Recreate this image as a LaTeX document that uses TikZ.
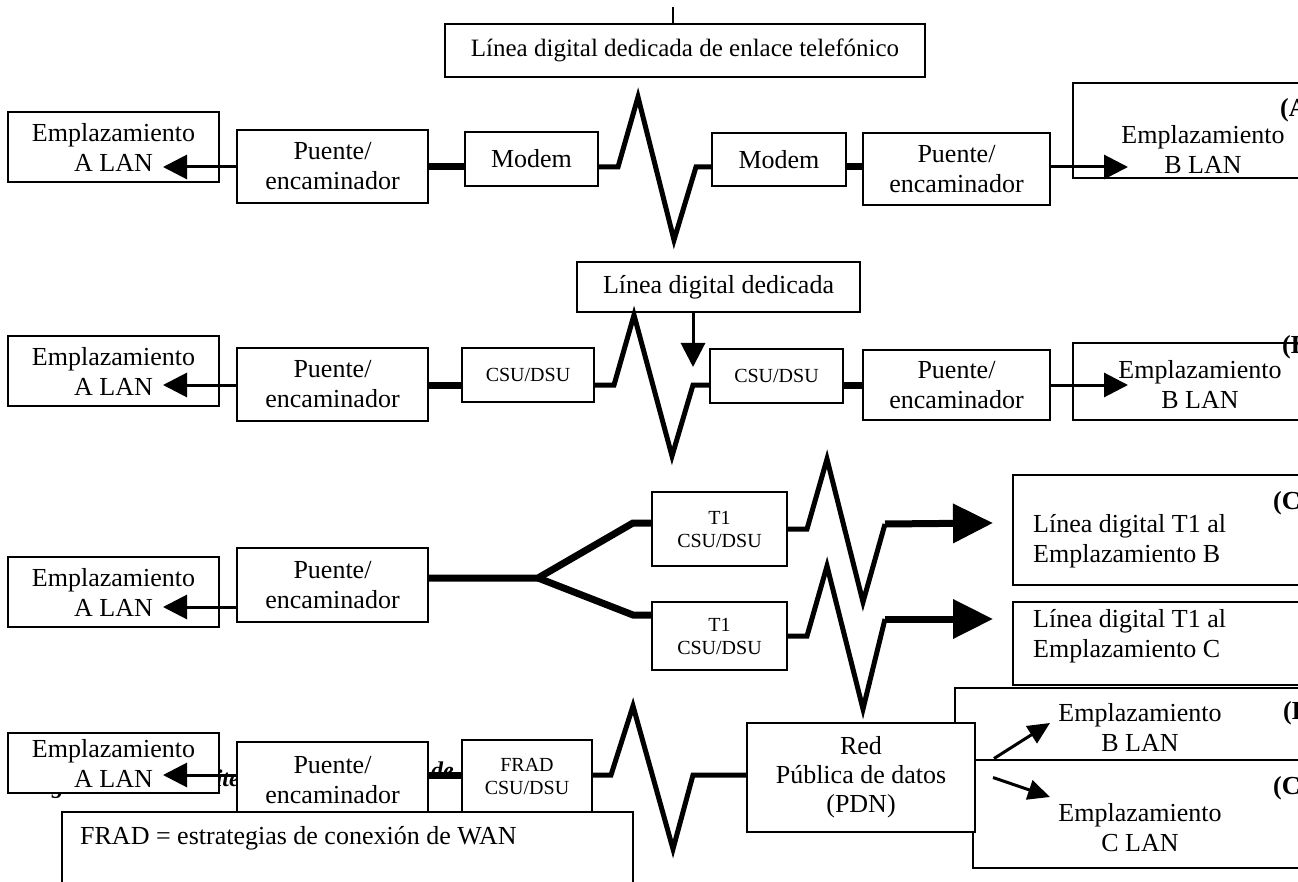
\documentclass[tikz,border=0pt]{standalone}
\usepackage{fontspec}
\setmainfont{Liberation Serif}
\usetikzlibrary{positioning,arrows.meta}

\tikzset{
  blk/.style={draw, fill=white, line width=2pt, inner sep=0pt, align=center,
    font=\fontsize{26}{30}\selectfont},
  csu/.style={blk, font=\fontsize{20}{23}\selectfont},
  txt/.style={inner sep=0pt, align=center, font=\fontsize{26}{30}\selectfont},
  tag/.style={inner sep=0pt, anchor=west, font=\fontsize{26}{30}\selectfont\bfseries},
  frag/.style={inner sep=0pt, font=\fontsize{24}{28}\selectfont\bfseries\itshape},
  zz/.style={line width=5pt},
  thk/.style={line width=7pt},
  thin/.style={line width=3pt},
  arr/.style={-{Triangle[length=24pt,width=24pt]}},
  bigarr/.style={-{Triangle[length=40pt,width=38pt]}},
  midarr/.style={-{Triangle[length=22pt,width=20pt]}},
}

\begin{document}
\begin{tikzpicture}[x=1pt, y=-1pt]
  \useasboundingbox (0,0) rectangle (1298,882);
  \clip (0,0) rectangle (1298,882);

  % leftovers of the caption, mostly hidden by the boxes
  \node[frag] (fg) at (58,790) {g};
  \node[frag, anchor=east] (fte) at (240,778) {ite};
  \node[frag, anchor=west] (fde) at (431,770) {de};

  % row A: modem
  \coordinate (ya) at (0,167);
  \coordinate (tk) at (673,7);
  \node[blk, minimum width=480pt, minimum height=53pt, font=\fontsize{25}{29}\selectfont] (lda) at (685,50.5) {Línea digital dedicada de enlace telefónico};
  \node[blk, minimum width=211pt, minimum height=70pt] (a1) at (113.5,147) {Emplazamiento\\A LAN};
  \node[blk, minimum width=191pt, minimum height=73pt] (a2) at (332.5,166.5) {Puente/\\encaminador};
  \node[blk, minimum width=133pt, minimum height=54pt] (a3) at (531.5,159) {Modem};
  \node[blk, minimum width=134pt, minimum height=53pt] (a4) at (779,159.5) {Modem};
  \node[blk, minimum width=187pt, minimum height=72pt] (a5) at (956.5,169) {Puente/\\encaminador};
  \node[blk, minimum width=257pt, minimum height=95pt] (a6) at (1201.5,130.5) {};
  \node[txt] (a6t) at (1203,150) {Emplazamiento\\B LAN};
  \node[tag] (a6l) at (1280,110) {(A)};
  \coordinate (ta1) at (163,167);
  \coordinate (ta) at (1128,167);

  \draw[line width=2pt] (tk) -- (tk |- lda.north);
  \draw[thin, arr] (a2.west |- ya) -- (ta1);
  \draw[thk] (a2.east |- ya) -- (a3.west |- ya);
  \draw[zz] (a3.east |- ya) -- ++(19,0) -- ++(20,-70) -- ++(36,143) -- ++(22,-73) -- (a4.west |- ya);
  \draw[thk] (a4.east |- ya) -- (a5.west |- ya);
  \draw[thin, arr] (a5.east |- ya) -- (ta);

  % row B: CSU/DSU
  \coordinate (yb) at (0,385);
  \node[blk, minimum width=283pt, minimum height=50pt] (ldb) at (718.5,287) {Línea digital dedicada};
  \node[blk, minimum width=211pt, minimum height=70pt] (b1) at (113.5,371) {Emplazamiento\\A LAN};
  \node[blk, minimum width=191pt, minimum height=73pt] (b2) at (332.5,384.5) {Puente/\\encaminador};
  \node[csu, minimum width=132pt, minimum height=53pt] (b3) at (528,375) {CSU/DSU};
  \node[csu, minimum width=133pt, minimum height=54pt] (b4) at (776.5,376) {CSU/DSU};
  \node[blk, minimum width=187pt, minimum height=70pt] (b5) at (956.5,385) {Puente/\\encaminador};
  \node[blk, minimum width=257pt, minimum height=77pt] (b6) at (1201.5,381.5) {};
  \node[txt] (b6t) at (1200,385) {Emplazamiento\\B LAN};
  \node[tag] (b6l) at (1282,347) {(B)};
  \coordinate (tb1) at (163,385);
  \coordinate (tb) at (1128,385);
  \coordinate (tdn) at (693,367);

  \draw[thin, arr] (ldb.south -| tdn) -- (tdn);
  \draw[thin, arr] (b2.west |- yb) -- (tb1);
  \draw[thk] (b2.east |- yb) -- (b3.west |- yb);
  \draw[zz] (b3.east |- yb) -- ++(19,0) -- ++(20,-70) -- ++(38,141) -- ++(21,-71) -- (b4.west |- yb);
  \draw[thk] (b4.east |- yb) -- (b5.west |- yb);
  \draw[thin, arr] (b5.east |- yb) -- (tb);

  % row C: two T1 lines
  \coordinate (br) at (538,578);
  \node[blk, minimum width=211pt, minimum height=70pt] (c1) at (113.5,592) {Emplazamiento\\A LAN};
  \node[blk, minimum width=191pt, minimum height=74pt] (c2) at (332.5,585) {Puente/\\encaminador};
  \node[csu, minimum width=135pt, minimum height=74pt] (c3) at (719.5,529) {T1\\CSU/DSU};
  \node[csu, minimum width=135pt, minimum height=68pt] (c4) at (719.5,636) {T1\\CSU/DSU};
  \node[blk, minimum width=317pt, minimum height=110pt] (c5) at (1171.5,530) {};
  \node[txt, align=left, anchor=west] (c5t) at (1033,541) {Línea digital T1 al\\Emplazamiento B};
  \node[tag] (c5l) at (1273,503) {(C)};
  \node[blk, minimum width=317pt, minimum height=83pt] (c6) at (1171.5,643.5) {};
  \node[txt, align=left, anchor=west] (c6t) at (1033,636) {Línea digital T1 al\\Emplazamiento C};
  \coordinate (tc0) at (163,607);
  \coordinate (tc1) at (993,523);
  \coordinate (tc2) at (993,619);

  \draw[thin, arr] (c2.west |- tc0) -- (tc0);
  \draw[thk] (c2.east |- br) -- (br) -- ++(95,-55) -- ++(19,0);
  \draw[thk] (br) -- ++(95,37) -- ++(19,0);
  \draw[zz] (c3.east) -- ++(19,0) -- ++(20,-70) -- ++(36,143) -- ++(22,-78) coordinate (zc1);
  \draw[thk, bigarr] (zc1) -- (tc1);
  \draw[zz] (c4.east) -- ++(19,0) -- ++(20,-70) -- ++(36,143) -- ++(22,-90) coordinate (zc2);
  \draw[thk, bigarr] (zc2) -- (tc2);

  % row D: frame relay
  \coordinate (yd) at (0,775);
  \node[blk, minimum width=211pt, minimum height=60pt] (d1) at (113.5,763) {Emplazamiento\\A LAN};
  \node[blk, minimum width=191pt, minimum height=76pt] (d2) at (332.5,780) {Puente/\\encaminador};
  \node[csu, minimum width=130pt, minimum height=72pt] (d3) at (527,776) {FRAD\\CSU/DSU};
  \node[blk, minimum width=571pt, minimum height=88pt] (nt) at (347.5,856) {};
  \node[txt, anchor=west] (ntt) at (80,838) {FRAD = estrategias de conexión de WAN};
  \node[blk, minimum width=375pt, minimum height=72pt] (dd) at (1142.5,724) {};
  \node[txt] (ddt) at (1140,728) {Emplazamiento\\B LAN};
  \node[tag] (ddl) at (1283,713) {(D)};
  \node[blk, minimum width=357pt, minimum height=108pt] (dc) at (1151.5,814) {};
  \node[txt] (dct) at (1140,828) {Emplazamiento\\C LAN};
  \node[tag] (dcl) at (1273,788) {(C)};
  \node[blk, minimum width=228pt, minimum height=109pt, font=\fontsize{26}{29}\selectfont] (pdn) at (861,777.5) {Red\\Pública de datos\\(PDN)};
  \coordinate (td1) at (163,775);
  \coordinate (te1) at (1050,723);
  \coordinate (te2) at (1050,797);

  \draw[thin, arr] (d2.west |- yd) -- (td1);
  \draw[thk] (d2.east |- yd) -- (d3.west |- yd);
  \draw[zz] (d3.east |- yd) -- ++(18,0) -- ++(22,-69) -- ++(40,143) -- ++(20,-74) -- (pdn.west |- yd);
  \draw[thin, midarr] ([xshift=18pt, yshift=19pt]pdn.east) -- (te1);
  \draw[thin, midarr] ([xshift=17pt]pdn.east) -- (te2);
\end{tikzpicture}
\end{document}
